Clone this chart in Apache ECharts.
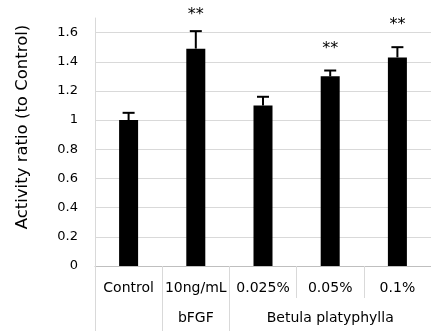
<!DOCTYPE html>
<html>
<head>
<meta charset="utf-8">
<script src="https://cdn.jsdelivr.net/npm/echarts@6/dist/echarts.min.js"></script>
<style>html,body{margin:0;padding:0;background:#fff;}#c{width:431px;height:331px;}</style>
</head>
<body>
<div id="c"></div>
<script>
const categories = ['Control', '10ng/mL', '0.025%', '0.05%', '0.1%'];
const values = [1.00, 1.49, 1.10, 1.30, 1.43];
const errors = [0.05, 0.12, 0.06, 0.04, 0.07];
const sig = ['', '**', '', '**', '**'];
const groupNames = ['', 'bFGF', 'Betula platyphylla'];
const groupStart = [0, 1, 2];
const groupEnd = [0, 1, 4];
const yTitle = 'Activity ratio (to Control)';

const FONT = 'DejaVu Sans';
const GRID_COLOR = '#d9d9d9';

const chart = echarts.init(document.getElementById('c'), null, {renderer: 'canvas'});

const errData = categories.map((c, i) => [i, values[i] + errors[i], values[i], sig[i]]);
const groupData = groupNames.map((g, i) => [groupStart[i], 0, groupEnd[i], g]);

chart.setOption({
  animation: false,
  backgroundColor: '#ffffff',
  grid: {left: 95, top: 18, width: 346.5, bottom: 65, containLabel: false},
  xAxis: {
    type: 'category',
    data: categories,
    z: 5,
    axisLine: {show: true, lineStyle: {color: '#bfbfbf', width: 1}},
    axisTick: {show: true, interval: 0, length: 32, lineStyle: {color: GRID_COLOR}},
    axisLabel: {interval: 0, margin: 15, fontFamily: FONT, fontSize: 14, color: '#000'},
    splitLine: {show: false}
  },
  yAxis: {
    type: 'value',
    min: 0, max: 1.7, interval: 0.2,
    axisLine: {show: true, lineStyle: {color: GRID_COLOR}},
    axisTick: {show: false},
    axisLabel: {showMaxLabel: false, margin: 17, fontFamily: FONT, fontSize: 13, color: '#000',
      formatter: v => (Math.abs(v - 1.7) < 1e-6 ? '' : String(Math.round(v * 10) / 10))},
    splitLine: {show: true, showMaxLine: false, lineStyle: {color: GRID_COLOR, width: 1}},
    name: yTitle,
    nameLocation: 'middle',
    nameGap: 64,
    nameRotate: 90,
    nameTextStyle: {fontFamily: FONT, fontSize: 16.5, color: '#000', padding: [0, 0, 0, 30]}
  },
  series: [
    {
      type: 'bar',
      data: values,
      barWidth: 19,
      itemStyle: {color: '#000'},
      z: 2
    },
    {
      type: 'custom',
      clip: false,
      z: 4,
      encode: {x: 0, y: 1},
      data: errData,
      renderItem: function (params, api) {
        const i = api.value(0);
        const hi = api.value(1);
        const lo = api.value(2);
        const s = errData[params.dataIndex][3];
        const pTop = api.coord([i, hi]);
        const pBase = api.coord([i, lo]);
        const cap = 6;
        const children = [
          {type: 'line', shape: {x1: pTop[0], y1: pBase[1], x2: pTop[0], y2: pTop[1]}, style: {stroke: '#000', lineWidth: 2}},
          {type: 'line', shape: {x1: pTop[0] - cap, y1: pTop[1], x2: pTop[0] + cap, y2: pTop[1]}, style: {stroke: '#000', lineWidth: 2}}
        ];
        if (s) {
          children.push({type: 'text', style: {text: s, x: pTop[0], y: Math.max(pTop[1] - 22, 15), align: 'center', verticalAlign: 'middle',
            font: '16px "' + FONT + '"', fill: '#000'}});
        }
        return {type: 'group', children: children};
      }
    },
    {
      type: 'custom',
      clip: false,
      z: 4,
      encode: {x: 0, y: 1},
      data: groupData,
      renderItem: function (params, api) {
        const s = api.value(0);
        const e = api.value(2);
        const name = groupData[params.dataIndex][3];
        const bw = api.size([1, 0])[0];
        const p0 = api.coord([s, 0]);
        const p1 = api.coord([e, 0]);
        const xl = p0[0] - bw / 2;
        const xr = p1[0] + bw / 2;
        const yb = p0[1];
        const H = api.getHeight();
        const children = [
          {type: 'line', shape: {x1: Math.round(xl) + 0.5, y1: yb, x2: Math.round(xl) + 0.5, y2: H}, style: {stroke: GRID_COLOR, lineWidth: 1}}
        ];
        if (name) {
          children.push({type: 'text', style: {text: name, x: (xl + xr) / 2, y: yb + 52, align: 'center', verticalAlign: 'middle',
            font: '14px "' + FONT + '"', fill: '#000'}});
        }
        return {type: 'group', children: children};
      }
    }
  ]
});
</script>
</body>
</html>
